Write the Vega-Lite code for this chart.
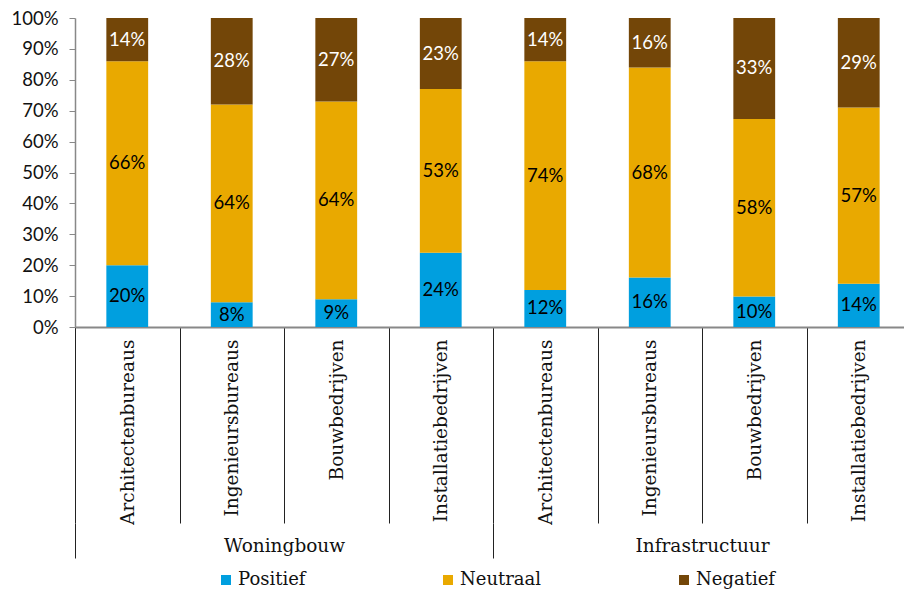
{
  "$schema": "https://vega.github.io/schema/vega-lite/v6.json",
  "autosize": {"type": "none"},
  "padding": {"left": 75, "top": 18, "right": 0, "bottom": 264},
  "width": 829,
  "height": 309,
  "background": "white",
  "config": {"view": {"stroke": null}, "axis": {"grid": false}},
  "data": {"values": [
    {"g": "Woningbouw", "k": "Woningbouw|Architectenbureaus", "s": "Positief", "v": 0.20},
    {"g": "Woningbouw", "k": "Woningbouw|Architectenbureaus", "s": "Neutraal", "v": 0.66},
    {"g": "Woningbouw", "k": "Woningbouw|Architectenbureaus", "s": "Negatief", "v": 0.14},
    {"g": "Woningbouw", "k": "Woningbouw|Ingenieursbureaus", "s": "Positief", "v": 0.08},
    {"g": "Woningbouw", "k": "Woningbouw|Ingenieursbureaus", "s": "Neutraal", "v": 0.64},
    {"g": "Woningbouw", "k": "Woningbouw|Ingenieursbureaus", "s": "Negatief", "v": 0.28},
    {"g": "Woningbouw", "k": "Woningbouw|Bouwbedrijven", "s": "Positief", "v": 0.09},
    {"g": "Woningbouw", "k": "Woningbouw|Bouwbedrijven", "s": "Neutraal", "v": 0.64},
    {"g": "Woningbouw", "k": "Woningbouw|Bouwbedrijven", "s": "Negatief", "v": 0.27},
    {"g": "Woningbouw", "k": "Woningbouw|Installatiebedrijven", "s": "Positief", "v": 0.24},
    {"g": "Woningbouw", "k": "Woningbouw|Installatiebedrijven", "s": "Neutraal", "v": 0.53},
    {"g": "Woningbouw", "k": "Woningbouw|Installatiebedrijven", "s": "Negatief", "v": 0.23},
    {"g": "Infrastructuur", "k": "Infrastructuur|Architectenbureaus", "s": "Positief", "v": 0.12},
    {"g": "Infrastructuur", "k": "Infrastructuur|Architectenbureaus", "s": "Neutraal", "v": 0.74},
    {"g": "Infrastructuur", "k": "Infrastructuur|Architectenbureaus", "s": "Negatief", "v": 0.14},
    {"g": "Infrastructuur", "k": "Infrastructuur|Ingenieursbureaus", "s": "Positief", "v": 0.16},
    {"g": "Infrastructuur", "k": "Infrastructuur|Ingenieursbureaus", "s": "Neutraal", "v": 0.68},
    {"g": "Infrastructuur", "k": "Infrastructuur|Ingenieursbureaus", "s": "Negatief", "v": 0.16},
    {"g": "Infrastructuur", "k": "Infrastructuur|Bouwbedrijven", "s": "Positief", "v": 0.10},
    {"g": "Infrastructuur", "k": "Infrastructuur|Bouwbedrijven", "s": "Neutraal", "v": 0.58},
    {"g": "Infrastructuur", "k": "Infrastructuur|Bouwbedrijven", "s": "Negatief", "v": 0.33},
    {"g": "Infrastructuur", "k": "Infrastructuur|Installatiebedrijven", "s": "Positief", "v": 0.14},
    {"g": "Infrastructuur", "k": "Infrastructuur|Installatiebedrijven", "s": "Neutraal", "v": 0.57},
    {"g": "Infrastructuur", "k": "Infrastructuur|Installatiebedrijven", "s": "Negatief", "v": 0.29}
  ]},
  "layer": [
    {
      "encoding": {
        "x": {
          "field": "k", "type": "nominal", "sort": null,
          "scale": {"paddingInner": 0, "paddingOuter": 0, "range": [0, 836]},
          "axis": {
            "title": null,
            "labelExpr": "split(datum.value, '|')[1]",
            "labelAngle": -90,
            "labelFont": "DejaVu Serif",
            "labelFontSize": 18.5,
            "labelColor": "#111111",
            "labelLimit": 400,
            "labelOverlap": false,
            "labelBound": false,
            "tickBand": "extent",
            "tickSize": 196,
            "tickColor": "#222222",
            "tickWidth": 1,
            "labelPadding": -184,
            "domainColor": "#888888",
            "domainWidth": 2
          }
        }
      },
      "layer": [
        {
          "mark": {"type": "bar", "width": {"band": 0.4}},
          "encoding": {
            "y": {
              "field": "v", "type": "quantitative", "stack": "normalize",
              "scale": {"domain": [0, 1]},
              "axis": {
                "title": null,
                "values": [0, 0.1, 0.2, 0.3, 0.4, 0.5, 0.6, 0.7, 0.8, 0.9, 1],
                "format": ".0%",
                "labelFont": "Lato",
                "labelFontSize": 18.5,
                "labelColor": "#111111",
                "labelPadding": 11,
                "tickSize": 6,
                "tickColor": "#888888",
                "domainColor": "#888888",
                "domainWidth": 1.5
              }
            },
            "order": {"field": "s", "sort": "descending"},
            "color": {
              "field": "s", "type": "nominal",
              "sort": ["Positief", "Neutraal", "Negatief"],
              "scale": {"domain": ["Positief", "Neutraal", "Negatief"], "range": ["#009FDF", "#E9A900", "#734608"]},
              "legend": {
                "orient": "none", "legendX": 142, "legendY": 553,
                "direction": "horizontal", "title": null,
                "symbolType": "square", "symbolSize": 100, "symbolStrokeWidth": 0,
                "labelFont": "DejaVu Serif", "labelFontSize": 18, "labelColor": "#111111",
                "columnPadding": 133, "labelOffset": 3
              }
            }
          }
        },
        {
          "transform": [
            {"stack": "v", "groupby": ["k"], "sort": [{"field": "s", "order": "descending"}], "offset": "normalize", "as": ["y0", "y1"]},
            {"fold": ["y0", "y1"], "as": ["edge", "pos"]}
          ],
          "mark": {"type": "text", "font": "Lato", "fontSize": 18.5},
          "encoding": {
            "y": {
              "aggregate": "mean", "field": "pos", "type": "quantitative",
              "axis": {
                "title": null,
                "values": [0, 0.1, 0.2, 0.3, 0.4, 0.5, 0.6, 0.7, 0.8, 0.9, 1],
                "format": ".0%",
                "labelFont": "Lato",
                "labelFontSize": 18.5,
                "labelColor": "#111111",
                "labelPadding": 11,
                "tickSize": 6,
                "tickColor": "#888888",
                "domainColor": "#888888",
                "domainWidth": 1.5
              }
            },
            "detail": {"field": "s"},
            "text": {"field": "v", "type": "quantitative", "format": ".0%"},
            "color": {"condition": {"test": "datum.s === 'Negatief'", "value": "white"}, "value": "black"}
          }
        }
      ]
    },
    {
      "mark": {"type": "bar", "opacity": 0},
      "encoding": {
        "x": {
          "field": "g", "type": "nominal", "sort": null,
          "scale": {"paddingInner": 0, "paddingOuter": 0, "range": [0, 836]},
          "axis": {
            "title": null,
            "orient": "bottom",
            "offset": 196,
            "domain": false,
            "tickBand": "extent",
            "tickSize": 35,
            "tickColor": "#222222",
            "labelAngle": 0,
            "labelBaseline": "top",
            "labelPadding": -22,
            "labelFont": "DejaVu Serif",
            "labelFontSize": 18.5,
            "labelColor": "#111111",
            "labelLimit": 400
          }
        }
      }
    }
  ],
  "resolve": {"scale": {"x": "independent"}}
}
